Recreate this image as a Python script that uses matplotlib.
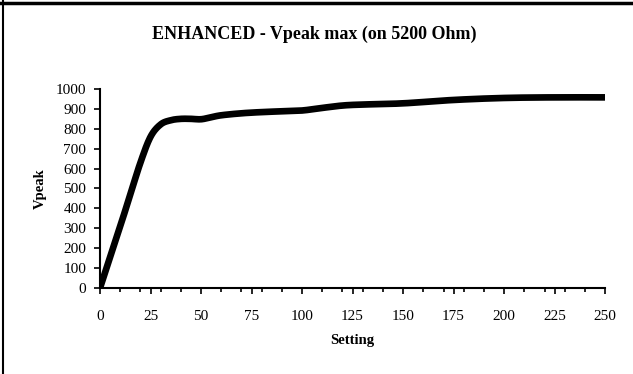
import numpy as np
import matplotlib.pyplot as plt
from matplotlib.lines import Line2D

# data
setting = [0, 5, 10, 15, 20, 25, 30, 35, 40, 45, 50, 55, 60, 70, 80, 90,
           100, 110, 120, 130, 150, 175, 200, 225, 250]
vpeak = [0, 155, 310, 470, 630, 760, 822, 843, 850, 850, 848, 858, 868, 878,
         884, 888, 892, 905, 917, 922, 928, 945, 955, 958, 958]

x_ticks = list(range(0, 251, 25))
y_ticks = list(range(0, 1001, 100))


def smooth(x, y, n=20):
    # catmull-rom style smoothing, similar to a smoothed line
    x = np.asarray(x, float)
    y = np.asarray(y, float)
    px = np.concatenate([[2 * x[0] - x[1]], x, [2 * x[-1] - x[-2]]])
    py = np.concatenate([[2 * y[0] - y[1]], y, [2 * y[-1] - y[-2]]])
    xs, ys = [], []
    t = np.linspace(0, 1, n, endpoint=False)
    for i in range(1, len(px) - 2):
        for arr, out in ((px, xs), (py, ys)):
            p0, p1, p2, p3 = arr[i - 1], arr[i], arr[i + 1], arr[i + 2]
            out.extend(0.5 * ((2 * p1) + (-p0 + p2) * t
                              + (2 * p0 - 5 * p1 + 4 * p2 - p3) * t ** 2
                              + (-p0 + 3 * p1 - 3 * p2 + p3) * t ** 3))
    xs.append(x[-1])
    ys.append(y[-1])
    return np.array(xs), np.array(ys)


plt.rcParams['font.family'] = ['Liberation Serif', 'DejaVu Serif']

fig = plt.figure(figsize=(6.33, 3.74), dpi=100)
ax = fig.add_axes([0.158, 0.23, 0.798, 0.532])

sx, sy = smooth(setting, vpeak)
ax.plot(sx, sy, color='black', linewidth=4.8, solid_capstyle='butt')

ax.set_xlim(0, 250)
ax.set_ylim(0, 1000)
ax.set_xticks(x_ticks)
ax.set_yticks(y_ticks)
ax.set_xticks(list(range(0, 251, 10)), minor=True)
ax.tick_params(axis='both', labelsize=11, direction='out', length=4,
               width=1.2, color='black')
ax.tick_params(axis='x', which='minor', length=3, width=1.2)
ax.tick_params(axis='x', pad=12)
ax.tick_params(axis='y', pad=6)
for s in ['top', 'right']:
    ax.spines[s].set_visible(False)
for s in ['left', 'bottom']:
    ax.spines[s].set_linewidth(1.5)

ax.set_xlabel('Setting', fontsize=10.5, fontweight='bold', labelpad=8)
ax.set_ylabel('Vpeak', fontsize=10.5, fontweight='bold', labelpad=6)
fig.text(0.497, 0.909, 'ENHANCED - Vpeak max (on 5200 Ohm)', ha='center',
         va='center', fontsize=13, fontweight='bold')

# chart border (only top and left visible)
fig.add_artist(Line2D([0, 1], [0.993, 0.993], color='black', linewidth=2.5,
                      transform=fig.transFigure))
fig.add_artist(Line2D([0.005, 0.005], [0, 1], color='black', linewidth=1.5,
                      transform=fig.transFigure))

fig.savefig('out.png', dpi=100)
